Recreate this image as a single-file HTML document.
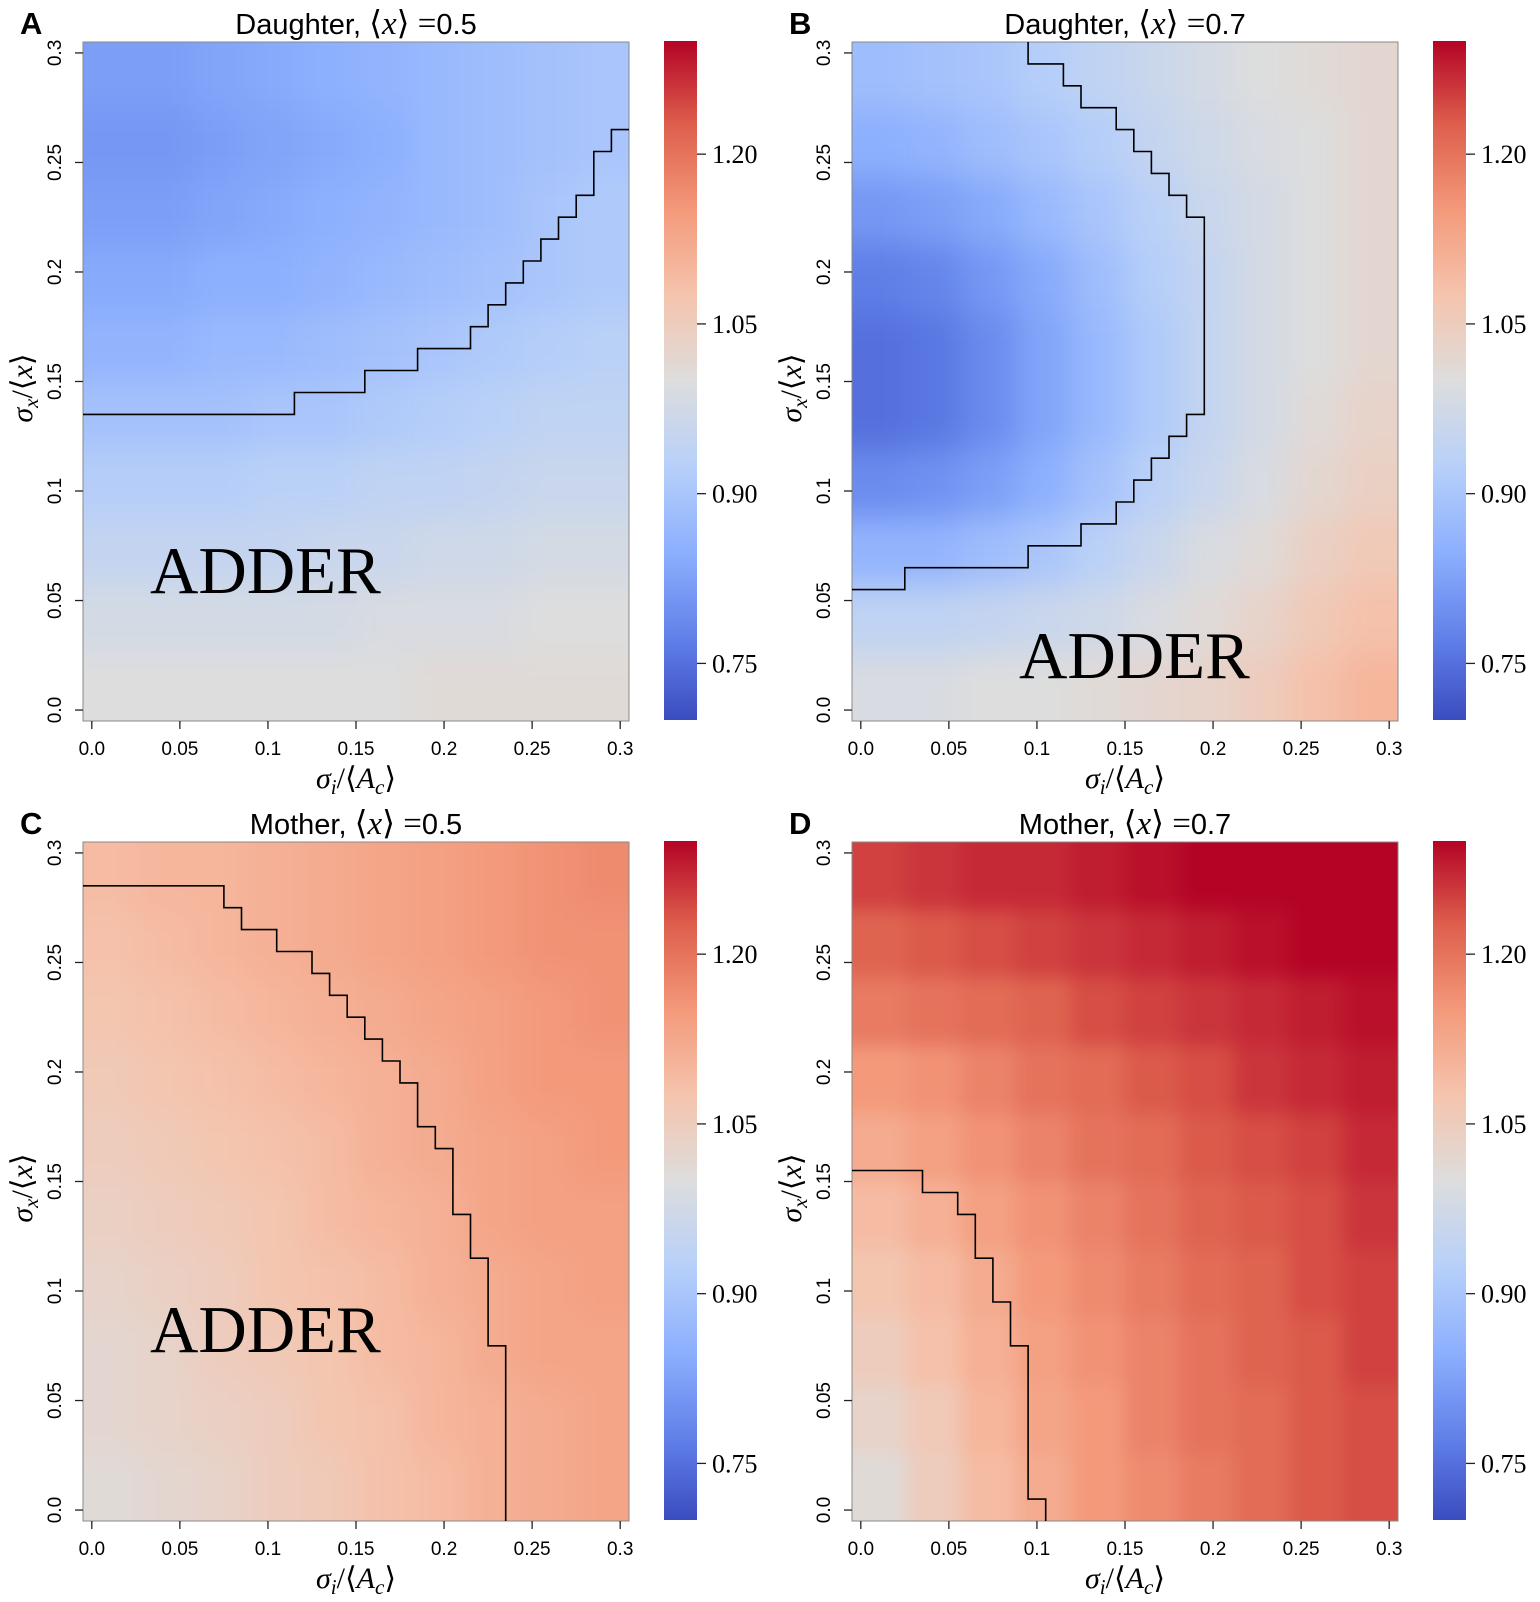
<!DOCTYPE html>
<html><head><meta charset="utf-8">
<style>
html,body{margin:0;padding:0;background:#fff;}
svg{display:block;}
</style></head>
<body>
<svg id="fig" width="1540" height="1602" viewBox="0 0 1540 1602" xmlns="http://www.w3.org/2000/svg"></svg>
<script>
// ---------- data ----------
const xTicks = [0.0, 0.05, 0.1, 0.15, 0.2, 0.25, 0.3];
const xTickLabels = ["0.0","0.05","0.1","0.15","0.2","0.25","0.3"];
const yTicks = [0.0, 0.05, 0.1, 0.15, 0.2, 0.25, 0.3];
const yTickLabels = ["0.0","0.05","0.1","0.15","0.2","0.25","0.3"];
const cbTicks = [0.75, 0.90, 1.05, 1.20];
const cbTickLabels = ["0.75","0.90","1.05","1.20"];
const panelLetters = ["A","B","C","D"];
const panelKinds = ["Daughter","Daughter","Mother","Mother"];
const panelMeans = ["0.5","0.7","0.5","0.7"];

// rows top (sigma_x high) to bottom; columns sigma_i low to high
const valuesA = [
[0.82,0.82,0.83,0.84,0.85,0.86,0.87,0.88,0.89,0.90],
[0.81,0.81,0.82,0.83,0.84,0.85,0.87,0.88,0.89,0.90],
[0.82,0.82,0.83,0.84,0.85,0.86,0.87,0.88,0.90,0.91],
[0.84,0.84,0.85,0.85,0.86,0.87,0.88,0.89,0.90,0.91],
[0.86,0.86,0.87,0.87,0.88,0.89,0.90,0.91,0.92,0.93],
[0.89,0.89,0.89,0.90,0.90,0.91,0.92,0.93,0.94,0.94],
[0.92,0.92,0.92,0.93,0.93,0.94,0.94,0.95,0.96,0.96],
[0.95,0.95,0.95,0.95,0.96,0.96,0.97,0.97,0.98,0.98],
[0.98,0.98,0.98,0.98,0.98,0.99,0.99,0.99,1.00,1.00],
[1.00,1.00,1.00,1.00,1.00,1.00,1.01,1.01,1.01,1.01]];
const valuesB = [
[0.88,0.89,0.90,0.92,0.94,0.96,0.98,1.00,1.01,1.02],
[0.85,0.86,0.88,0.90,0.92,0.95,0.97,0.99,1.00,1.02],
[0.81,0.82,0.84,0.87,0.90,0.93,0.96,0.98,1.00,1.02],
[0.77,0.78,0.81,0.84,0.88,0.92,0.95,0.98,1.00,1.02],
[0.75,0.76,0.79,0.83,0.87,0.91,0.95,0.98,1.00,1.02],
[0.75,0.76,0.79,0.83,0.87,0.91,0.95,0.98,1.01,1.03],
[0.79,0.80,0.82,0.85,0.89,0.93,0.96,0.99,1.02,1.04],
[0.86,0.86,0.88,0.90,0.93,0.96,0.99,1.01,1.04,1.06],
[0.94,0.94,0.95,0.96,0.97,0.99,1.01,1.03,1.06,1.08],
[0.99,0.99,1.00,1.00,1.01,1.02,1.03,1.05,1.08,1.10]];
const valuesC = [
[1.09,1.10,1.10,1.11,1.12,1.13,1.14,1.15,1.16,1.17],
[1.08,1.09,1.10,1.11,1.12,1.13,1.14,1.15,1.16,1.16],
[1.07,1.08,1.09,1.10,1.11,1.12,1.13,1.14,1.15,1.16],
[1.06,1.07,1.08,1.09,1.10,1.11,1.12,1.14,1.15,1.15],
[1.05,1.06,1.07,1.08,1.09,1.11,1.12,1.13,1.14,1.15],
[1.04,1.05,1.06,1.07,1.09,1.10,1.11,1.13,1.14,1.14],
[1.03,1.04,1.05,1.07,1.08,1.09,1.11,1.12,1.13,1.14],
[1.02,1.03,1.05,1.06,1.07,1.09,1.10,1.12,1.13,1.13],
[1.02,1.03,1.04,1.05,1.07,1.08,1.10,1.11,1.12,1.13],
[1.01,1.02,1.03,1.05,1.06,1.08,1.09,1.11,1.12,1.13]];
const valuesD = [
[1.25,1.26,1.27,1.27,1.28,1.29,1.30,1.30,1.30,1.30],
[1.22,1.23,1.24,1.25,1.26,1.27,1.28,1.29,1.30,1.30],
[1.19,1.20,1.21,1.22,1.24,1.25,1.26,1.27,1.28,1.29],
[1.15,1.16,1.18,1.20,1.21,1.23,1.24,1.26,1.27,1.28],
[1.12,1.14,1.16,1.18,1.20,1.21,1.23,1.24,1.25,1.27],
[1.09,1.11,1.14,1.16,1.18,1.20,1.22,1.23,1.24,1.26],
[1.07,1.09,1.12,1.15,1.17,1.19,1.21,1.22,1.24,1.25],
[1.05,1.08,1.11,1.14,1.16,1.18,1.20,1.22,1.23,1.25],
[1.03,1.06,1.10,1.13,1.15,1.18,1.20,1.21,1.23,1.24],
[1.01,1.05,1.09,1.12,1.15,1.17,1.19,1.21,1.23,1.24]];

// boundary staircase vertices (data units)
const lineAx = [-0.005,0.115,0.115,0.155,0.155,0.185,0.185,0.215,0.215,0.225,0.225,0.235,0.235,0.245,0.245,0.255,0.255,0.265,0.265,0.275,0.275,0.285,0.285,0.295,0.295,0.305];
const lineAy = [0.135,0.135,0.145,0.145,0.155,0.155,0.165,0.165,0.175,0.175,0.185,0.185,0.195,0.195,0.205,0.205,0.215,0.215,0.225,0.225,0.235,0.235,0.255,0.255,0.265,0.265];
const lineBx = [0.095,0.095,0.115,0.115,0.125,0.125,0.145,0.145,0.155,0.155,0.165,0.165,0.175,0.175,0.185,0.185,0.195,0.195,0.185,0.185,0.175,0.175,0.165,0.165,0.155,0.155,0.145,0.145,0.125,0.125,0.095,0.095,0.025,0.025,-0.005];
const lineBy = [0.305,0.295,0.295,0.285,0.285,0.275,0.275,0.265,0.265,0.255,0.255,0.245,0.245,0.235,0.235,0.225,0.225,0.135,0.135,0.125,0.125,0.115,0.115,0.105,0.105,0.095,0.095,0.085,0.085,0.075,0.075,0.065,0.065,0.055,0.055];
const lineCx = [-0.005,0.075,0.075,0.085,0.085,0.105,0.105,0.125,0.125,0.135,0.135,0.145,0.145,0.155,0.155,0.165,0.165,0.175,0.175,0.185,0.185,0.195,0.195,0.205,0.205,0.215,0.215,0.225,0.225,0.235,0.235];
const lineCy = [0.285,0.285,0.275,0.275,0.265,0.265,0.255,0.255,0.245,0.245,0.235,0.235,0.225,0.225,0.215,0.215,0.205,0.205,0.195,0.195,0.175,0.175,0.165,0.165,0.135,0.135,0.115,0.115,0.075,0.075,-0.005];
const lineDx = [-0.005,0.035,0.035,0.055,0.055,0.065,0.065,0.075,0.075,0.085,0.085,0.095,0.095,0.105,0.105];
const lineDy = [0.155,0.155,0.145,0.145,0.135,0.135,0.115,0.115,0.095,0.095,0.075,0.075,0.005,0.005,-0.005];

// ---------- rendering ----------
const NS = "http://www.w3.org/2000/svg";
const svg = document.getElementById("fig");
const cmap = [[0,59,76,192],[0.125,98,130,234],[0.25,141,176,254],[0.375,184,208,249],[0.5,221,221,221],[0.625,245,196,173],[0.75,244,154,123],[0.875,222,96,77],[1,180,4,38]];
const VMIN = 0.70, VMAX = 1.30;
function color(v){
  let t = Math.max(0, Math.min(1, (v - VMIN) / (VMAX - VMIN)));
  for (let i = 0; i < cmap.length - 1; i++) {
    const a = cmap[i], b = cmap[i+1];
    if (t <= b[0]) {
      const f = (t - a[0]) / (b[0] - a[0]);
      return "rgb(" + Math.round(a[1]+(b[1]-a[1])*f) + "," + Math.round(a[2]+(b[2]-a[2])*f) + "," + Math.round(a[3]+(b[3]-a[3])*f) + ")";
    }
  }
  return "rgb(180,4,38)";
}
function mk(tag, attrs, parent){
  const e = document.createElementNS(NS, tag);
  for (const k in attrs) e.setAttribute(k, attrs[k]);
  (parent || svg).appendChild(e);
  return e;
}
const DMIN = -0.005, DMAX = 0.305;
const HX = 83, HY = 42, HW = 546, HH = 679;
const CBX = 664, CBW = 33, CBY = 41, CBH = 679;
const PAD = 60;

const allValues = [valuesA, valuesB, valuesC, valuesD];
const linesX = [lineAx, lineBx, lineCx, lineDx];
const linesY = [lineAy, lineBy, lineCy, lineDy];
const offsets = [[0,0],[769,0],[0,800],[769,800]];
const adderPos = [[150,593],[1019,678],[150,1352],null];

const defs = mk("defs", {});
const grad = mk("linearGradient", {id:"cbgrad", x1:"0", y1:"1", x2:"0", y2:"0"}, defs);
for (let i = 0; i <= 40; i++) {
  const v = VMIN + (VMAX - VMIN) * i / 40;
  mk("stop", {offset: (i/40).toFixed(3), "stop-color": color(v)}, grad);
}
const blurF = mk("filter", {id:"smooth", x:"-0.1", y:"-0.1", width:"1.2", height:"1.2", "color-interpolation-filters":"sRGB"}, defs);
mk("feGaussianBlur", {stdDeviation:"16"}, blurF);
const blurD = mk("filter", {id:"smoothD", x:"-0.1", y:"-0.1", width:"1.2", height:"1.2", "color-interpolation-filters":"sRGB"}, defs);
mk("feGaussianBlur", {stdDeviation:"9"}, blurD);

for (let p = 0; p < 4; p++) {
  const ox = offsets[p][0], oy = offsets[p][1];
  const xs = v => ox + HX + (v - DMIN) / (DMAX - DMIN) * HW;
  const ys = v => oy + HY + (DMAX - v) / (DMAX - DMIN) * HH;
  const cbY = v => oy + CBY + (VMAX - v) / (VMAX - VMIN) * CBH;

  const g = mk("g", {});
  
  

  const letter = mk("text", {x: ox + 20, y: oy + 34, "font-family": "Liberation Sans, sans-serif", "font-weight": "bold", "font-size": "31"}, g);
  letter.textContent = panelLetters[p];
  
  

  const title = mk("text", {x: ox + HX + HW/2, y: oy + 34, "text-anchor": "middle", "font-family": "Liberation Sans, sans-serif", "font-size": "29"}, g);
  
  
  const t1 = mk("tspan", {}, title); t1.textContent = panelKinds[p] + ", ";
  const t2 = mk("tspan", {"font-family": "Liberation Serif, serif", "font-size": "33"}, title); t2.textContent = "⟨";
  const t3 = mk("tspan", {"font-family": "Liberation Serif, serif", "font-style": "italic", "font-size": "33"}, title); t3.textContent = "x";
  const t4 = mk("tspan", {"font-family": "Liberation Serif, serif", "font-size": "33"}, title); t4.textContent = "⟩ =";
  const t5 = mk("tspan", {}, title); t5.textContent = panelMeans[p];

  // heatmap: clipped, blurred, edge cells padded outward
  const cp = mk("clipPath", {id: "clip" + p}, defs);
  mk("rect", {x: xs(DMIN), y: ys(DMAX), width: HW, height: HH}, cp);
  const clipG = mk("g", {"clip-path": "url(#clip" + p + ")"}, g);
  const vals = allValues[p];
  const nr = vals.length, nc = vals[0].length;
  const hm = mk("g", {filter: p === 3 ? "url(#smoothD)" : "url(#smooth)"}, clipG);
  
  
  for (let r = 0; r < nr; r++) {
    for (let c = 0; c < nc; c++) {
      let x0 = xs(DMIN + (DMAX - DMIN) * c / nc), x1 = xs(DMIN + (DMAX - DMIN) * (c+1) / nc);
      let y0 = ys(DMAX - (DMAX - DMIN) * r / nr), y1 = ys(DMAX - (DMAX - DMIN) * (r+1) / nr);
      if (c === 0) x0 -= PAD;
      if (c === nc - 1) x1 += PAD;
      if (r === 0) y0 -= PAD;
      if (r === nr - 1) y1 += PAD;
      const cell = mk("rect", {x: x0, y: y0, width: x1 - x0 + 0.6, height: y1 - y0 + 0.6, fill: color(vals[r][c])}, hm);
      
      
    }
  }
  const frame = mk("rect", {x: xs(DMIN), y: ys(DMAX), width: HW, height: HH, fill: "none", stroke: "#888", "stroke-width": "1"}, g);
  
  

  // boundary line
  const lx = linesX[p], ly = linesY[p];
  let pts = [];
  for (let i = 0; i < lx.length; i++) pts.push(xs(lx[i]).toFixed(1) + "," + ys(ly[i]).toFixed(1));
  const bl = mk("polyline", {points: pts.join(" "), fill: "none", stroke: "#000", "stroke-width": "1.6"}, g);
  
  

  // x ticks
  for (let i = 0; i < xTicks.length; i++) {
    const x = xs(xTicks[i]);
    const tk = mk("line", {x1: x, x2: x, y1: oy + HY + HH, y2: oy + HY + HH + 8, stroke: "#222", "stroke-width": "1.3"}, g);
    
    
    const tl = mk("text", {x: x, y: oy + 755, "text-anchor": "middle", "font-family": "Liberation Sans, sans-serif", "font-size": "19"}, g);
    tl.textContent = xTickLabels[i];
    
    
  }
  // y ticks
  for (let i = 0; i < yTicks.length; i++) {
    const y = ys(yTicks[i]);
    const tk = mk("line", {x1: ox + HX - 8, x2: ox + HX, y1: y, y2: y, stroke: "#222", "stroke-width": "1.3"}, g);
    
    
    const tl = mk("text", {x: 0, y: 0, "text-anchor": "middle", "font-family": "Liberation Sans, sans-serif", "font-size": "19", transform: "translate(" + (ox + 61) + "," + y + ") rotate(-90)"}, g);
    tl.textContent = yTickLabels[i];
    
    
  }
  // axis titles
  const xl = mk("text", {x: ox + HX + HW/2, y: oy + 788, "text-anchor": "middle", "font-family": "Liberation Serif, serif", "font-size": "30"}, g);
  
  
  let s;
  s = mk("tspan", {"font-style": "italic"}, xl); s.textContent = "σ";
  s = mk("tspan", {"font-style": "italic", "font-size": "21", dy: "6"}, xl); s.textContent = "i";
  s = mk("tspan", {dy: "-6"}, xl); s.textContent = "/⟨";
  s = mk("tspan", {"font-style": "italic"}, xl); s.textContent = "A";
  s = mk("tspan", {"font-style": "italic", "font-size": "21", dy: "6"}, xl); s.textContent = "c";
  s = mk("tspan", {dy: "-6"}, xl); s.textContent = "⟩";

  const yl = mk("text", {x: 0, y: 0, "text-anchor": "middle", "font-family": "Liberation Serif, serif", "font-size": "30", transform: "translate(" + (ox + 32) + "," + (oy + 388) + ") rotate(-90)"}, g);
  
  
  s = mk("tspan", {"font-style": "italic"}, yl); s.textContent = "σ";
  s = mk("tspan", {"font-style": "italic", "font-size": "21", dy: "6"}, yl); s.textContent = "x";
  s = mk("tspan", {dy: "-6"}, yl); s.textContent = "/⟨";
  s = mk("tspan", {"font-style": "italic"}, yl); s.textContent = "x";
  s = mk("tspan", {}, yl); s.textContent = "⟩";

  if (adderPos[p]) {
    const ad = mk("text", {x: adderPos[p][0], y: adderPos[p][1], "font-family": "Liberation Serif, serif", "font-size": "67"}, g);
    ad.textContent = "ADDER";
    
    
  }

  // colorbar
  const cb = mk("rect", {x: ox + CBX, y: oy + CBY, width: CBW, height: CBH, fill: "url(#cbgrad)"}, g);
  
  
  for (let i = 0; i < cbTicks.length; i++) {
    const y = cbY(cbTicks[i]);
    const tk = mk("line", {x1: ox + CBX + CBW, x2: ox + CBX + CBW + 9, y1: y, y2: y, stroke: "#222", "stroke-width": "1.3"}, g);
    
    
    const tl = mk("text", {x: ox + CBX + CBW + 15, y: y + 9, "font-family": "Liberation Serif, serif", "font-size": "26"}, g);
    tl.textContent = cbTickLabels[i];
    
    
  }
}
</script>
</body></html>
